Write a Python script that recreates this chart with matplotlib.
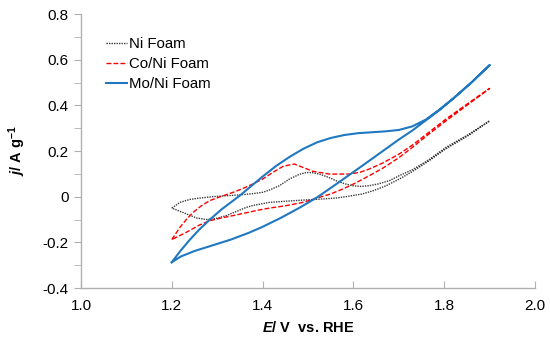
import matplotlib
matplotlib.use("Agg")
import matplotlib.pyplot as plt
from matplotlib.ticker import MultipleLocator, FixedLocator, FixedFormatter

plt.rcParams['font.family'] = ['Liberation Sans', 'DejaVu Sans']
plt.rcParams['mathtext.fontset'] = 'custom'
plt.rcParams['mathtext.rm'] = 'Liberation Sans:bold'
plt.rcParams['mathtext.it'] = 'Liberation Sans:italic:bold'
plt.rcParams['mathtext.bf'] = 'Liberation Sans:bold'

# ---------------- data ----------------
labels = ["Ni Foam", "Co/Ni Foam", "Mo/Ni Foam"]

ni_E_fwd = [1.20, 1.218, 1.24, 1.262, 1.29, 1.32, 1.35, 1.378, 1.40, 1.415, 1.437, 1.459, 1.48, 1.496,
            1.51, 1.525, 1.545, 1.562, 1.58, 1.598, 1.615, 1.635, 1.655, 1.679, 1.701, 1.73, 1.765,
            1.804, 1.855, 1.90]
ni_j_fwd = [-0.050, -0.025, -0.012, -0.006, 0.0, 0.004, 0.008, 0.013, 0.019, 0.029, 0.048, 0.077, 0.097,
            0.106, 0.105, 0.099, 0.085, 0.070, 0.057, 0.048, 0.045, 0.048, 0.056, 0.070, 0.092, 0.118,
            0.160, 0.216, 0.274, 0.332]
ni_E_rev = [1.90, 1.855, 1.804, 1.765, 1.73, 1.701, 1.672, 1.645, 1.62, 1.59, 1.562, 1.525, 1.489,
            1.45, 1.415, 1.38, 1.364, 1.342, 1.32, 1.298, 1.276, 1.254, 1.224, 1.20]
ni_j_rev = [0.332, 0.270, 0.210, 0.155, 0.110, 0.077, 0.048, 0.027, 0.012, 0.002, -0.006, -0.011,
            -0.015, -0.020, -0.025, -0.038, -0.047, -0.065, -0.083, -0.095, -0.100, -0.093, -0.069, -0.050]

co_E_fwd = [1.20, 1.218, 1.232, 1.247, 1.265, 1.284, 1.31, 1.335, 1.357, 1.379, 1.40, 1.42, 1.445,
            1.47, 1.489, 1.511, 1.547, 1.591, 1.615, 1.635, 1.665, 1.701, 1.73, 1.765, 1.804, 1.85, 1.90]
co_j_fwd = [-0.188, -0.134, -0.100, -0.069, -0.040, -0.017, 0.002, 0.019, 0.036, 0.056, 0.077, 0.103,
            0.133, 0.143, 0.128, 0.111, 0.099, 0.099, 0.107, 0.121, 0.148, 0.187, 0.226, 0.280, 0.340,
            0.405, 0.474]
co_E_rev = [1.90, 1.85, 1.804, 1.765, 1.73, 1.701, 1.665, 1.635, 1.605, 1.576, 1.55, 1.525, 1.489,
            1.45, 1.415, 1.393, 1.365, 1.335, 1.31, 1.284, 1.26, 1.232, 1.20]
co_j_rev = [0.474, 0.400, 0.332, 0.272, 0.216, 0.172, 0.125, 0.092, 0.060, 0.033, 0.012, -0.003,
            -0.025, -0.040, -0.050, -0.058, -0.070, -0.083, -0.093, -0.105, -0.125, -0.156, -0.188]

mo_E_fwd = [1.20, 1.22, 1.24, 1.26, 1.284, 1.31, 1.33, 1.35, 1.371, 1.40, 1.43, 1.46, 1.49, 1.52,
            1.55, 1.58, 1.61, 1.64, 1.67, 1.70, 1.73, 1.76, 1.79, 1.82, 1.86, 1.90]
mo_j_fwd = [-0.287, -0.235, -0.188, -0.145, -0.100, -0.055, -0.025, 0.005, 0.040, 0.088, 0.135, 0.175,
            0.210, 0.238, 0.257, 0.270, 0.278, 0.282, 0.286, 0.292, 0.308, 0.338, 0.382, 0.430, 0.500, 0.576]
mo_E_rev = [1.90, 1.86, 1.82, 1.79, 1.76, 1.73, 1.70, 1.66, 1.62, 1.58, 1.55, 1.52, 1.48, 1.44, 1.40,
            1.37, 1.33, 1.29, 1.25, 1.22, 1.20]
mo_j_rev = [0.576, 0.500, 0.430, 0.380, 0.335, 0.290, 0.250, 0.193, 0.136, 0.080, 0.038, -0.003, -0.050,
            -0.093, -0.132, -0.158, -0.188, -0.213, -0.238, -0.262, -0.287]

x_ticks = [1.0, 1.2, 1.4, 1.6, 1.8, 2.0]
x_ticklabels = ["1.0", "1.2", "1.4", "1.6", "1.8", "2.0"]
y_ticks = [-0.4, -0.2, 0.0, 0.2, 0.4, 0.6, 0.8]
y_ticklabels = ["-0.4", "-0.2", "0", "0.2", "0.4", "0.6", "0.8"]

# ---------------- plot ----------------
fig = plt.figure(figsize=(5.5, 3.44), dpi=100)
ax = fig.add_axes([81/550, 1-288/344, (535-81)/550, (288-14)/344])

ni_style = dict(color='#3a3a3a', lw=1.0, ls=(0, (1, 0.8)))
co_style = dict(color='#ff0000', lw=1.0, ls=(0, (3.5, 1.5)))
mo_style = dict(color='#1f78c0', lw=1.5, ls='-')

ax.plot(ni_E_fwd + ni_E_rev, ni_j_fwd + ni_j_rev, label=labels[0], **ni_style)
ax.plot(co_E_fwd + co_E_rev, co_j_fwd + co_j_rev, label=labels[1], **co_style)
ax.plot(mo_E_fwd + mo_E_rev, mo_j_fwd + mo_j_rev, label=labels[2], **mo_style)

ax.set_xlim(1.0, 2.0)
ax.set_ylim(-0.4, 0.8)
ax.xaxis.set_major_locator(FixedLocator(x_ticks))
ax.xaxis.set_major_formatter(FixedFormatter(x_ticklabels))
ax.yaxis.set_major_locator(FixedLocator(y_ticks))
ax.yaxis.set_major_formatter(FixedFormatter(y_ticklabels))
ax.yaxis.set_minor_locator(MultipleLocator(0.1))

spine_c = '#b0b0b0'
for s in ['top', 'right']:
    ax.spines[s].set_visible(False)
for s in ['left', 'bottom']:
    ax.spines[s].set_color(spine_c)
    ax.spines[s].set_linewidth(1.0)

ax.tick_params(axis='x', direction='in', length=5, color=spine_c, labelsize=11, pad=8)
ax.tick_params(axis='y', which='both', direction='out', length=5, color=spine_c, labelsize=11, pad=4)

ax.set_xlabel(r'$\mathit{E}$/ V  vs. RHE', fontsize=10.5, fontweight='bold', labelpad=5)
ax.set_ylabel(r'$\mathit{j}$/ A g$^{\mathbf{-1}}$', fontsize=10.5, fontweight='bold', labelpad=10)

leg = ax.legend(loc='upper left', bbox_to_anchor=(106/550, 1-37/344), bbox_transform=fig.transFigure,
                frameon=False, fontsize=10.8, handlelength=1.4, handletextpad=0.15, labelspacing=0.4,
                borderaxespad=0, borderpad=0)

fig.savefig('out.png', dpi=100)
